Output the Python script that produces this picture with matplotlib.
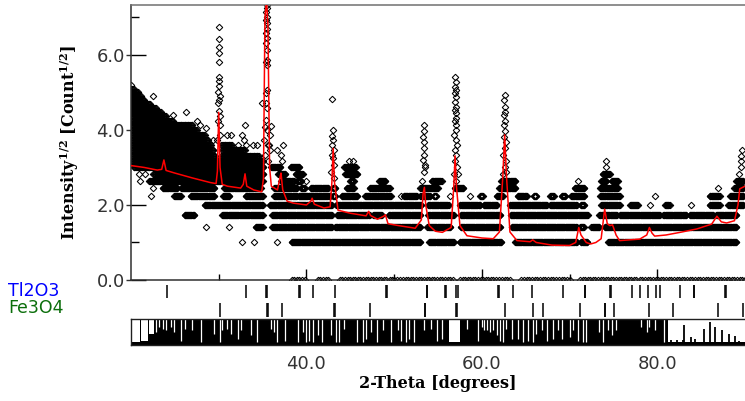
import numpy as np
import matplotlib
matplotlib.use("Agg")
import matplotlib.pyplot as plt

plt.rcParams['mathtext.fontset'] = 'dejavuserif'

# ---- observed scan, runs of steps sitting on one count level: (count, 2theta from, 2theta to)
zero_runs = [(0, 38.3, 39.8), (0, 41.3, 42.5), (0, 43.8, 49.1), (0, 49.5, 50.3), (0, 50.7, 56.7),
             (0, 57.5, 61.9), (0, 62.3, 63.2), (0, 64.5, 70.0), (0, 71.2, 75.0), (0, 75.3, 77.6),
             (0, 78.0, 90.0)]

band_runs = [
    (1, 32.7, 32.7), (1, 34.0, 34.0), (1, 36.7, 36.7), (1, 38.3, 53.0), (1, 54.0, 56.8),
    (1, 57.5, 62.2), (1, 63.8, 70.8), (1, 71.3, 72.0), (1, 74.4, 89.0),
    (2, 28.5, 28.5), (2, 31.2, 31.2), (2, 34.2, 35.0), (2, 36.1, 42.9), (2, 43.3, 53.0),
    (2, 53.8, 56.4), (2, 57.6, 62.1), (2, 63.4, 70.8), (2, 71.2, 71.6), (2, 72.5, 73.4),
    (2, 74.0, 89.0),
    (3, 26.1, 27.2), (3, 30.4, 35.0), (3, 36.1, 42.9), (3, 43.5, 47.2), (3, 47.6, 48.6),
    (3, 49.4, 53.0), (3, 53.9, 56.8), (3, 57.6, 62.1), (3, 63.3, 72.1), (3, 73.4, 75.4),
    (3, 75.7, 80.3), (3, 80.7, 83.3), (3, 83.7, 86.4), (3, 86.7, 89.0),
    (4, 28.4, 35.0), (4, 35.8, 42.9), (4, 43.4, 53.1), (4, 53.9, 56.2), (4, 57.5, 59.8),
    (4, 60.2, 61.7), (4, 63.2, 67.4), (4, 67.8, 70.8), (4, 71.3, 71.7), (4, 73.6, 75.7),
    (4, 76.9, 77.8), (4, 79.2, 79.2), (4, 80.9, 81.4), (4, 83.9, 83.9), (4, 86.0, 87.1),
    (4, 88.1, 89.8),
    (5, 22.3, 22.3), (5, 24.9, 25.7), (5, 26.8, 29.5), (5, 30.5, 31.2), (5, 33.1, 35.0),
    (5, 36.3, 38.9), (5, 39.1, 42.7), (5, 43.0, 43.3), (5, 44.0, 45.8), (5, 46.7, 49.6),
    (5, 50.8, 50.8), (5, 51.1, 52.6), (5, 53.0, 54.1), (5, 54.5, 54.8), (5, 56.4, 56.4),
    (5, 58.6, 58.6), (5, 59.8, 60.1), (5, 61.7, 62.4), (5, 64.1, 65.1), (5, 65.9, 66.2),
    (5, 67.8, 68.2), (5, 69.1, 69.5), (5, 70.2, 71.7), (5, 73.5, 75.7), (5, 79.7, 79.7),
    (5, 86.0, 87.1), (5, 88.3, 89.8),
    (6, 22.5, 22.5), (6, 23.6, 25.3), (6, 25.7, 29.5), (6, 30.6, 34.8), (6, 36.3, 38.9),
    (6, 39.4, 39.8), (6, 40.5, 42.5), (6, 43.0, 43.3), (6, 44.6, 45.4), (6, 47.2, 49.5),
    (6, 53.0, 55.0), (6, 56.9, 57.9), (6, 62.0, 63.8), (6, 70.6, 71.7), (6, 73.5, 75.5),
    (6, 86.9, 86.9), (6, 88.8, 89.8),
    (7, 21.0, 21.0), (7, 22.1, 35.0), (7, 37.1, 38.6), (7, 38.9, 39.4), (7, 40.0, 40.0),
    (7, 45.0, 45.4), (7, 48.3, 49.0), (7, 53.2, 53.2), (7, 54.3, 55.4), (7, 57.0, 57.0),
    (7, 62.2, 63.8), (7, 71.0, 71.0), (7, 73.6, 74.2), (7, 74.8, 75.5), (7, 89.0, 89.8),
    (8, 36.8, 37.6), (8, 38.8, 39.6), (8, 44.4, 45.8), (8, 73.8, 74.6), (8, 89.3, 89.3),
    (9, 36.0, 37.0), (9, 38.2, 39.2), (9, 44.3, 45.6), (9, 74.1, 74.1), (9, 89.5, 89.5),
    (10, 74.1, 74.1), (10, 89.6, 89.6), (11, 89.6, 89.6), (12, 89.7, 89.7),
]

# low angle background cloud
cloud_runs = [
    (8, 22.5, 35.1), (9, 20.3, 35.1), (10, 20.0, 35.0), (11, 20.0, 29.6), (11, 30.3, 34.6),
    (12, 20.0, 29.4), (12, 30.4, 33.0), (13, 20.0, 29.1), (13, 30.3, 31.5), (14, 20.0, 28.8),
    (15, 20.0, 28.4), (16, 20.0, 27.5), (17, 20.0, 27.0), (18, 20.0, 24.8), (19, 20.0, 24.0),
    (20, 20.0, 23.4), (21, 20.0, 22.8), (22, 20.0, 22.2), (23, 20.0, 21.5), (24, 20.0, 21.1),
    (25, 20.0, 20.8), (26, 20.0, 20.3), (27, 20.0, 20.0),
]

# single points: peak columns and outliers (2theta, sqrt intensity)
peak_pts = [
    (30.02, 6.74), (30.02, 6.42), (30.0, 6.2), (30.06, 6.05), (30.02, 5.82), (29.98, 5.42),
    (30.08, 5.3), (30.02, 5.16), (29.95, 5.0), (30.1, 4.9), (30.02, 4.8), (29.97, 4.72),
    (30.05, 4.5), (30.15, 4.36), (29.9, 4.24), (30.12, 4.12), (30.2, 3.87), (29.8, 3.74),
    (35.45, 7.33), (35.5, 7.25), (35.42, 7.15), (35.48, 7.02), (35.4, 6.93), (35.52, 6.86),
    (35.45, 6.7), (35.38, 6.58), (35.5, 6.45), (35.42, 6.32), (35.47, 6.13), (35.55, 5.87),
    (35.45, 5.73), (35.4, 5.82), (35.5, 5.07), (35.42, 4.98), (35.35, 4.72), (35.55, 4.58),
    (35.4, 4.27), (35.3, 4.09), (35.5, 4.0), (35.2, 3.74), (35.6, 3.61), (35.25, 3.32),
    (35.65, 3.16), (34.95, 4.71), (35.95, 4.1), (35.9, 3.87), (35.8, 3.46), (35.7, 3.61),
    (33.0, 4.12), (32.6, 3.87), (33.1, 3.6), (32.9, 3.74),
    (36.7, 3.46), (37.3, 3.61), (37.1, 3.32), (37.2, 3.16),
    (22.5, 4.9), (24.8, 4.4), (26.3, 4.49), (27.5, 4.24), (27.9, 4.12), (28.6, 4.05),
    (28.2, 3.74), (29.3, 3.74), (31.0, 3.87), (31.4, 3.87), (32.2, 3.61), (33.9, 3.61),
    (34.4, 3.61), (20.9, 2.83), (21.6, 2.83),
    (42.95, 4.82), (43.0, 4.0), (42.9, 3.84), (43.05, 3.73), (42.95, 3.6), (43.1, 3.47),
    (42.9, 3.33), (43.0, 3.25), (43.1, 3.07), (42.85, 2.89), (43.15, 2.71),
    (44.8, 3.16), (45.3, 3.16),
    (53.35, 4.13), (53.4, 3.96), (53.3, 3.8), (53.45, 3.69), (53.35, 3.52), (53.4, 3.33),
    (53.3, 3.2), (53.5, 3.07), (53.4, 2.89), (53.55, 3.0),
    (56.95, 5.42), (57.0, 5.29), (56.9, 5.15), (57.05, 5.07), (56.95, 4.98), (57.0, 4.89),
    (56.9, 4.75), (57.05, 4.62), (56.95, 4.53), (57.0, 4.44), (57.1, 4.32), (56.9, 4.24),
    (57.0, 4.12), (57.1, 4.0), (56.85, 3.87), (57.0, 3.74), (57.15, 3.61), (56.9, 3.46),
    (57.05, 3.32), (56.95, 3.16), (57.2, 3.0), (56.8, 2.83), (57.3, 2.83),
    (62.6, 4.93), (62.55, 4.8), (62.65, 4.62), (62.6, 4.49), (62.5, 4.4), (62.65, 4.24),
    (62.55, 4.12), (62.6, 3.96), (62.5, 3.8), (62.7, 3.69), (62.6, 3.52), (62.45, 3.32),
    (62.7, 3.16), (62.6, 3.0), (62.8, 2.89), (62.4, 2.83),
]

# ---- calculated profile (red)
calc_tt = [20.0, 21.5, 23.0, 23.5, 23.75, 24.0, 25.0, 27.0, 29.0, 29.7, 29.85, 30.0, 30.15,
           30.4, 31.0, 32.5, 32.8, 33.0, 33.2, 34.0, 34.9, 35.1, 35.27, 35.45, 35.61, 35.8,
           36.0, 36.7, 37.0, 37.1, 37.3, 37.8, 38.5, 40.0, 40.5, 40.65, 40.9, 42.0, 42.7,
           42.9, 43.05, 43.2, 43.6, 45.0, 46.8, 47.1, 47.3, 48.1, 48.8, 49.0, 49.3, 50.5,
           52.4, 53.1, 53.3, 53.45, 53.6, 54.0, 54.7, 55.5, 56.5, 56.8, 56.95, 57.1, 57.5,
           58.3, 60.0, 61.3, 62.0, 62.4, 62.6, 62.8, 63.2, 64.0, 65.5, 65.8, 66.2, 68.0,
           70.0, 70.7, 71.05, 71.3, 71.9, 72.4, 73.0, 73.6, 74.0, 74.3, 74.6, 74.9, 75.3,
           75.7, 78.0, 78.8, 79.1, 79.4, 79.7, 81.0, 82.6, 84.5, 86.2, 86.8, 87.3, 87.9,
           88.8, 89.2, 89.4, 90.0]
calc_y = [3.05, 3.0, 2.93, 2.95, 3.2, 2.92, 2.85, 2.72, 2.6, 2.57, 2.9, 4.47, 3.0,
          2.55, 2.5, 2.45, 2.55, 2.83, 2.5, 2.4, 2.35, 2.7, 7.0, 7.45, 6.8, 3.0,
          2.5, 2.4, 2.75, 2.85, 2.4, 2.1, 2.05, 2.0, 2.1, 2.18, 2.02, 1.92, 1.95,
          2.6, 3.51, 2.6, 1.86, 1.78, 1.71, 1.83, 1.72, 1.62, 1.7, 1.74, 1.5, 1.45,
          1.38, 1.6, 2.3, 2.47, 2.0, 1.45, 1.3, 1.27, 1.4, 2.5, 3.31, 2.5, 1.45,
          1.18, 1.12, 1.1, 1.28, 2.8, 3.87, 2.8, 1.28, 1.05, 1.02, 1.07, 1.0, 0.93,
          0.92, 1.0, 1.4, 1.2, 1.0, 0.96, 1.0, 1.1, 1.89, 1.5, 1.45, 1.47, 1.2,
          1.05, 1.09, 1.2, 1.4, 1.25, 1.17, 1.2, 1.27, 1.36, 1.49, 1.7, 1.55, 1.52,
          1.58, 2.0, 2.43, 2.5]

# ---- reflection markers
tl2o3_pos = [24.07, 33.1, 35.4, 35.47, 39.18, 39.25, 40.7, 43.25, 49.1, 49.17, 53.7, 53.77,
             55.8, 55.87, 57.04, 57.3, 61.86, 61.93, 63.57, 65.66, 69.27, 71.74, 71.81, 74.6,
             74.67, 77.17, 78.0, 78.95, 79.9, 80.28, 82.56, 84.16, 84.23, 87.69, 87.88]
fe3o4_pos = [30.14, 35.5, 35.57, 37.17, 43.17, 43.24, 47.23, 53.5, 53.57, 57.1, 57.17, 62.6,
             65.85, 66.99, 71.17, 74.0, 74.07, 75.04, 79.07, 81.8, 86.93, 89.78]

# ---- difference strip: white dips from the top (2theta, depth fraction)
diff_dips = [(22.85, 0.5), (23.2, 0.3), (23.6, 0.37), (24.0, 0.43), (24.6, 0.3), (24.9, 0.5),
             (25.7, 0.83), (26.1, 0.37), (27.0, 0.43), (28.0, 0.9), (29.5, 0.57), (30.1, 0.9),
             (30.4, 0.43), (31.0, 0.37), (31.4, 0.57), (32.2, 0.76), (32.5, 0.43), (33.7, 0.63),
             (34.4, 0.9), (36.0, 0.37), (36.3, 0.5), (36.7, 0.9), (37.5, 0.83), (39.0, 0.9),
             (39.6, 0.5), (40.0, 0.9), (40.3, 0.83), (40.7, 0.9), (41.3, 0.63), (41.8, 0.9),
             (42.8, 0.63), (43.4, 0.9), (43.7, 0.9), (44.3, 0.37), (45.8, 0.9), (46.4, 0.9),
             (46.8, 0.76), (47.4, 0.5), (48.1, 0.9), (48.7, 0.43), (49.6, 0.9), (50.4, 0.43),
             (50.8, 0.83), (51.3, 0.9), (51.7, 0.76), (52.3, 0.9), (53.4, 0.43), (54.2, 0.37),
             (54.9, 0.83), (55.4, 0.76), (58.25, 0.37), (59.6, 0.83), (60.0, 0.3), (60.3, 0.43),
             (60.6, 0.43), (60.9, 0.5), (61.3, 0.43), (61.7, 0.63), (62.05, 0.83), (62.4, 0.9),
             (62.8, 0.37), (63.4, 0.76), (64.1, 0.76), (64.7, 0.9), (65.3, 0.83), (65.8, 0.9),
             (66.2, 0.57), (66.8, 0.43), (67.4, 0.83), (68.1, 0.76), (68.7, 0.43), (69.1, 0.76),
             (70.0, 0.7), (70.4, 0.43), (71.0, 0.83), (71.5, 0.9), (71.9, 0.9), (73.4, 0.5),
             (73.8, 0.9), (74.4, 0.43), (74.8, 0.63), (75.3, 0.43), (78.2, 0.3), (78.8, 0.5),
             (79.1, 0.3), (79.7, 0.43), (80.8, 0.9)]
diff_spans = [(20.15, 21.0, 0.9), (21.1, 21.9, 0.83), (22.05, 22.6, 0.57), (56.2, 57.5, 0.9),
              (81.2, 90.0, 0.87)]
diff_bars = [(81.6, 0.21), (82.3, 0.21), (82.9, 0.21), (83.1, 0.76), (83.8, 0.3), (84.3, 0.25),
             (85.3, 0.63), (86.0, 0.9), (86.6, 0.7), (87.4, 0.57), (88.2, 0.43), (88.9, 0.35),
             (89.3, 0.17)]


def run_points(runs, step):
    xs, ys = [], []
    for count, lo, hi in runs:
        n = max(1, int(round((hi - lo) / step)) + 1)
        xs.extend(np.linspace(lo, hi, n))
        ys.extend([np.sqrt(count)] * n)
    return xs, ys


W, H = 745, 401
fig = plt.figure(figsize=(W / 100, H / 100), dpi=100)


def px_axes(x0, y0, x1, y1):
    return fig.add_axes([x0 / W, 1 - y1 / H, (x1 - x0) / W, (y1 - y0) / H])


ax = px_axes(131, 5, 745, 280)
tax = px_axes(131, 283, 745, 319)
dax = px_axes(131, 319, 745, 345)

mk = dict(ls='none', marker='D', ms=3.3, mfc='none', mec='black', mew=0.75)
for runs, step in ((zero_runs, 0.3), (band_runs, 0.06), (cloud_runs, 0.09)):
    xs, ys = run_points(runs, step)
    ax.plot(xs, ys, **mk)
ax.plot([p[0] for p in peak_pts], [p[1] for p in peak_pts], **mk)
ax.plot(calc_tt, calc_y, color='red', lw=1.1, zorder=5)

ax.set_xlim(20, 90)
ax.set_ylim(0, 7.33)
ax.spines['right'].set_visible(False)
ax.spines['top'].set_color('#707070')
ax.spines['left'].set_color('#303030')
ax.spines['bottom'].set_color('#303030')
for s in ('top', 'left', 'bottom'):
    ax.spines[s].set_linewidth(1.1)

ax.set_xticks([40, 60, 80])
ax.set_xticks([30, 50, 70], minor=True)
ax.tick_params(axis='x', which='major', direction='in', length=8, width=1, labelbottom=False)
ax.tick_params(axis='x', which='minor', direction='in', length=4, width=1)
ax.set_yticks([0, 2, 4, 6])
ax.set_yticks([1, 3, 5, 7], minor=True)
ax.set_yticklabels(['0.0', '2.0', '4.0', '6.0'], family='DejaVu Sans', fontsize=13, color='#333333')
ax.tick_params(axis='y', which='major', direction='in', length=11, width=1, pad=4.5)
ax.tick_params(axis='y', which='minor', direction='in', length=5.5, width=1)
ax.hlines([0, 2, 4, 6], -5 / 614, 0, transform=ax.get_yaxis_transform(), clip_on=False,
          color='#303030', lw=1)

# reflection markers
tax.set_xlim(20, 90)
tax.set_ylim(-36, 0)
tax.vlines(tl2o3_pos, -15, -2, color='black', lw=1.1)
tax.vlines(fe3o4_pos, -34, -20, color='black', lw=1.1)
tax.axis('off')

# difference strip
dax.set_xlim(20, 90)
dax.set_ylim(0, 1)
dax.set_facecolor('black')
for lo, hi, d in diff_spans:
    dax.fill_between([lo, hi], 1 - d, 1, color='white', lw=0)
dax.vlines([b[0] for b in diff_bars], 0, [b[1] for b in diff_bars], color='black', lw=1.3)
dax.vlines([d[0] for d in diff_dips], [1 - d[1] for d in diff_dips], 1, color='white', lw=0.9)
for s in dax.spines.values():
    s.set_color('#202020')
    s.set_linewidth(1)
dax.spines['right'].set_visible(False)
dax.set_yticks([])
dax.set_xticks([40, 60, 80])
dax.set_xticklabels(['40.0', '60.0', '80.0'], family='DejaVu Sans', fontsize=13, color='#333333')
dax.tick_params(axis='x', length=0, pad=7)

fig.text(8 / W, 1 - 291 / H, 'Tl2O3', color='#0000ff', family='DejaVu Sans', fontsize=12.5,
         ha='left', va='center')
fig.text(8 / W, 1 - 308 / H, 'Fe3O4', color='#0b6e0b', family='DejaVu Sans', fontsize=12.5,
         ha='left', va='center')

fig.text(438 / W, 1 - 384 / H, '2-Theta [degrees]', family='DejaVu Serif', weight='bold',
         fontsize=11.5, ha='center', va='center')
fig.text(70 / W, 1 - 142 / H, r'Intensity$^{\mathbf{1/2}}$ [Count$^{\mathbf{1/2}}$]',
         family='DejaVu Serif', weight='bold', fontsize=11.5, rotation=90, ha='center', va='center')

fig.savefig('out.png', dpi=100)
